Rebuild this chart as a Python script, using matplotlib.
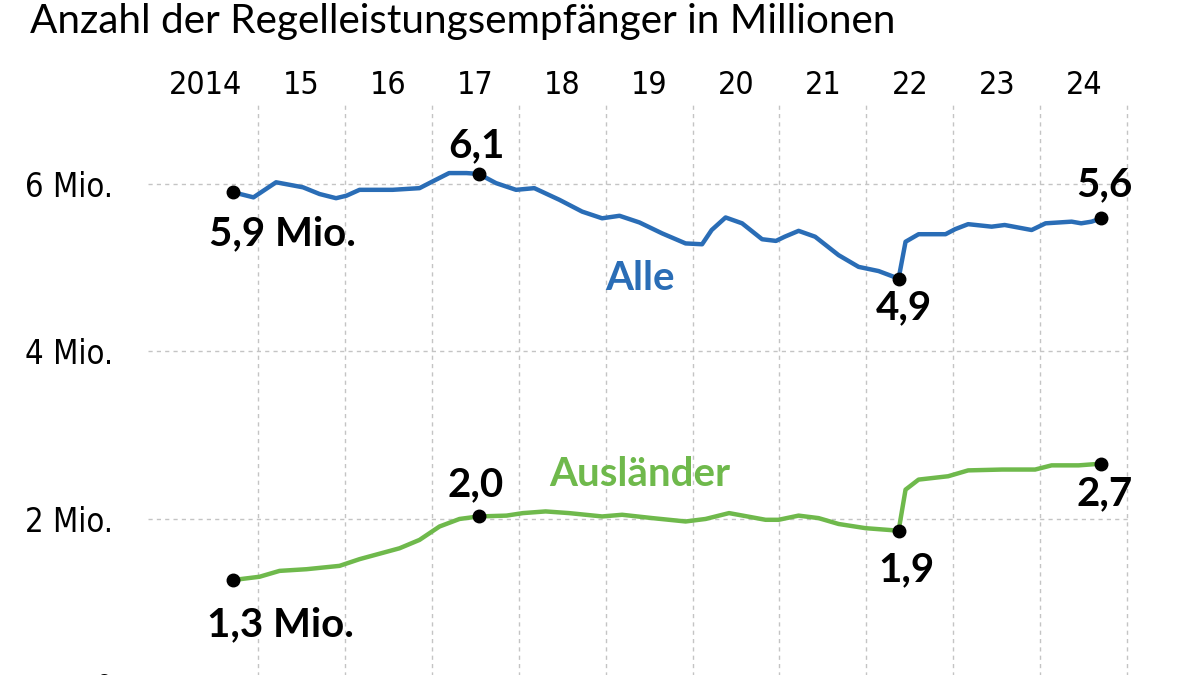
import matplotlib
matplotlib.use("Agg")
import matplotlib.pyplot as plt

# data (decimal years, millions)
alle_x = [2014.72, 2014.95, 2015.21, 2015.52, 2015.71, 2015.90, 2016.02, 2016.17,
          2016.55, 2016.86, 2017.01, 2017.20, 2017.40, 2017.54, 2017.74, 2017.97,
          2018.18, 2018.47, 2018.73, 2018.96, 2019.16, 2019.39, 2019.65, 2019.92,
          2020.11, 2020.22, 2020.38, 2020.57, 2020.80, 2020.96, 2021.06, 2021.22,
          2021.41, 2021.68, 2021.91, 2022.14, 2022.37, 2022.45, 2022.60, 2022.91,
          2023.02, 2023.17, 2023.44, 2023.59, 2023.90, 2024.06, 2024.36, 2024.47,
          2024.59, 2024.70]
alle_y = [5.90, 5.84, 6.02, 5.96, 5.88, 5.83, 5.86, 5.93,
          5.93, 5.95, 6.03, 6.13, 6.13, 6.12, 6.01, 5.93,
          5.95, 5.81, 5.67, 5.59, 5.62, 5.54, 5.41, 5.29,
          5.28, 5.45, 5.60, 5.53, 5.34, 5.32, 5.37, 5.44,
          5.37, 5.15, 5.01, 4.96, 4.87, 5.31, 5.40, 5.40,
          5.46, 5.52, 5.49, 5.51, 5.45, 5.53, 5.55, 5.53,
          5.55, 5.59]

ausl_x = [2014.71, 2015.02, 2015.25, 2015.56, 2015.94, 2016.17, 2016.63, 2016.86,
          2017.09, 2017.32, 2017.54, 2017.86, 2018.05, 2018.31, 2018.58, 2018.96,
          2019.19, 2019.54, 2019.92, 2020.15, 2020.42, 2020.84, 2020.99, 2021.22,
          2021.45, 2021.68, 2021.99, 2022.37, 2022.45, 2022.60, 2022.94, 2023.17,
          2023.56, 2023.94, 2024.13, 2024.44, 2024.70]
ausl_y = [1.27, 1.31, 1.38, 1.40, 1.44, 1.52, 1.65, 1.75,
          1.91, 2.00, 2.03, 2.04, 2.07, 2.09, 2.07, 2.03,
          2.05, 2.01, 1.97, 2.00, 2.07, 1.99, 1.99, 2.04,
          2.01, 1.94, 1.89, 1.86, 2.35, 2.47, 2.51, 2.58,
          2.59, 2.59, 2.64, 2.64, 2.66]

alle_marks = [0, 13, 36, len(alle_x) - 1]
ausl_marks = [0, 10, 27, len(ausl_x) - 1]

year_labels = ['2014', '15', '16', '17', '18', '19', '20', '21', '22', '23', '24']
y_ticks = [0, 2, 4, 6]
y_labels = ['0', '2 Mio.', '4 Mio.', '6 Mio.']

blue = '#2a6db6'
green = '#6fb94c'
bold = ['Lato', 'DejaVu Sans']

fig = plt.figure(figsize=(12, 6.75), dpi=100)
ax = fig.add_axes([148 / 1200, -0.0542, 981 / 1200, (711.6 - 105) / 675])
ax.set_xlim(2013.737, 2025.02)
ax.set_ylim(-0.3, 6.943)

for s in ax.spines.values():
    s.set_visible(False)

# gridlines at year starts, labels in the middle of each year
ax.set_xticks(range(2015, 2026))
ax.set_xticks([2014.40] + [y + 0.5 for y in range(2015, 2025)], minor=True)
ax.xaxis.tick_top()
ax.set_xticklabels([])
ax.set_xticklabels(year_labels, minor=True, fontsize=23, family='DejaVu Sans',
                   fontstretch='condensed')
ax.tick_params(axis='x', which='both', length=0, pad=3)

ax.set_yticks(y_ticks)
ax.set_yticklabels(y_labels, fontsize=23.5, family='DejaVu Sans', fontstretch='condensed')
ax.tick_params(axis='y', length=0, pad=25)

ax.grid(True, which='major', color='#c4c4c4', lw=1, linestyle=(0, (3, 3)))
ax.set_axisbelow(True)

ax.plot(alle_x, alle_y, color=blue, lw=3.2, solid_joinstyle='round', solid_capstyle='round')
ax.plot(ausl_x, ausl_y, color=green, lw=3.2, solid_joinstyle='round', solid_capstyle='round')
ax.plot([alle_x[i] for i in alle_marks], [alle_y[i] for i in alle_marks],
        'o', color='black', ms=9, zorder=5)
ax.plot([ausl_x[i] for i in ausl_marks], [ausl_y[i] for i in ausl_marks],
        'o', color='black', ms=9, zorder=5)

lab = dict(fontsize=29, fontweight='bold', family=bold, ha='center', va='baseline')
ax.text(2015.28, 5.27, '5,9 Mio.', **lab)
ax.text(2017.52, 6.32, '6,1', **lab)
ax.text(2022.43, 4.38, '4,9', **lab)
ax.text(2024.74, 5.85, '5,6', **lab)
ax.text(2015.26, 0.60, '1,3 Mio.', **lab)
ax.text(2017.50, 2.27, '2,0', **lab)
ax.text(2022.46, 1.26, '1,9', **lab)
ax.text(2024.74, 2.17, '2,7', **lab)
ax.text(2019.39, 4.73, 'Alle', color=blue, **lab)
ax.text(2019.39, 2.39, 'Ausländer', color=green, **lab)

fig.text(30 / 1200, 1 - 21 / 675, 'Anzahl der Regelleistungsempfänger in Millionen',
         fontsize=29.2, family=bold, va='center', ha='left')

fig.savefig('out.png', dpi=100)
